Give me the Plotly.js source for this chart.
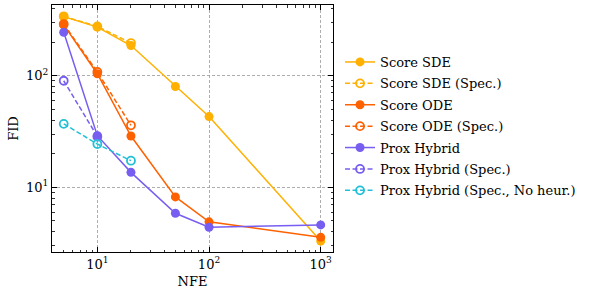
<!DOCTYPE html>
<html>
<head>
<meta charset="utf-8">
<script src="https://cdn.plot.ly/plotly-3.0.1.min.js"></script>
<style>html,body{margin:0;padding:0;background:#fff;}#chart{width:595px;height:297px;}</style>
</head>
<body>
<div id="chart"></div>
<script>
const nfeFull = [5, 10, 20, 50, 100, 1000];
const nfeSpec = [5, 10, 20];
const nfeSpecProx = [5, 10];

const scoreSDE = [338, 272, 186, 80, 43, 3.3];
const scoreSDESpec = [340, 276, 196];
const scoreODE = [285, 104, 28.8, 8.2, 4.9, 3.56];
const scoreODESpec = [290, 108, 35.9];
const proxHybrid = [245, 29, 13.6, 5.85, 4.38, 4.6];
const proxHybridSpec = [90, 28.5];
const proxHybridNoHeur = [37, 24.4, 17.3];

const seriesNames = ["Score SDE", "Score SDE (Spec.)", "Score ODE", "Score ODE (Spec.)", "Prox Hybrid", "Prox Hybrid (Spec.)", "Prox Hybrid (Spec., No heur.)"];
const colors = ["#FFB000", "#FFB000", "#FE6100", "#FE6100", "#785EF0", "#785EF0", "#22C0D6"];

const xMajorVals = [10, 100, 1000];
const xMajorText = ["10<sup>1</sup>", "10<sup>2</sup>", "10<sup>3</sup>"];
const yMajorVals = [10, 100];
const yMajorText = ["10<sup>1</sup>", "10<sup>2</sup>"];
const minorDigits = [2, 3, 4, 5, 6, 7, 8, 9];
const xMinorVals = [1, 10, 100, 1000].flatMap(p => minorDigits.map(d => d * p));
const yMinorVals = [1, 10, 100].flatMap(p => minorDigits.map(d => d * p));

function solid(x, y, i) {
  return {x: x, y: y, name: seriesNames[i], type: "scatter", mode: "lines+markers",
    legendgroup: "g" + i, legendrank: i + 1,
    line: {color: colors[i], width: 1.5},
    marker: {color: colors[i], size: 9, symbol: "circle"}};
}
function dashed(x, y, i) {
  return {x: x, y: y, name: seriesNames[i], type: "scatter", mode: "lines+markers",
    legendgroup: "g" + i, legendrank: i + 1,
    line: {color: colors[i], width: 1.5, dash: "5px,2.5px"},
    marker: {color: colors[i], size: 8, symbol: "circle-open", line: {width: 1.8, color: colors[i]}}};
}

const traces = [
  solid(nfeFull, scoreSDE, 0),
  dashed(nfeSpec, scoreSDESpec, 1),
  solid(nfeFull, scoreODE, 2),
  dashed(nfeSpec, scoreODESpec, 3),
  solid(nfeFull, proxHybrid, 4),
  dashed(nfeSpecProx, proxHybridSpec, 5),
  dashed(nfeSpec, proxHybridNoHeur, 6)
];
const order = [1, 0, 3, 2, 5, 4, 6];
const data = order.map(i => traces[i]);
data.push({x: [10], y: [10], xaxis: "x2", yaxis: "y2", type: "scatter", mode: "markers",
  marker: {opacity: 0}, showlegend: false, hoverinfo: "skip"});

const fontFam = "DejaVu Serif";
const xRange = [0.594, 3.11];
const yRange = [0.42, 2.633];
const axisCommon = {
  type: "log",
  showline: true, linecolor: "#000", linewidth: 1, mirror: "allticks",
  ticks: "inside", ticklen: 5, tickwidth: 1, tickcolor: "#000",
  showgrid: true, gridcolor: "#999", griddash: "3px,2px", gridwidth: 0.8,
  zeroline: false, tickmode: "array",
  tickfont: {family: fontFam, size: 13, color: "#000"}
};
const minorCommon = {
  type: "log", showline: false, showgrid: false, zeroline: false,
  ticks: "inside", ticklen: 2.5, tickwidth: 0.8, tickcolor: "#000", mirror: "allticks",
  showticklabels: false, tickmode: "array"
};

const layout = {
  width: 595, height: 297,
  margin: {l: 52, r: 262, t: 5, b: 45},
  paper_bgcolor: "#fff", plot_bgcolor: "#fff",
  font: {family: fontFam, color: "#000"},
  xaxis: Object.assign({}, axisCommon, {range: xRange, tickvals: xMajorVals, ticktext: xMajorText,
    title: {text: "NFE", font: {family: fontFam, size: 13}, standoff: 6}}),
  yaxis: Object.assign({}, axisCommon, {range: yRange, tickvals: yMajorVals, ticktext: yMajorText,
    title: {text: "FID", font: {family: fontFam, size: 13}, standoff: 4}}),
  xaxis2: Object.assign({}, minorCommon, {overlaying: "x", anchor: "y2", side: "bottom", range: xRange, tickvals: xMinorVals}),
  yaxis2: Object.assign({}, minorCommon, {overlaying: "y", anchor: "x2", side: "left", range: yRange, tickvals: yMinorVals}),
  showlegend: true,
  legend: {x: 1.025, y: 0.83, xanchor: "left", yanchor: "top",
    font: {family: fontFam, size: 13, color: "#000"},
    tracegroupgap: 1.5, bgcolor: "rgba(0,0,0,0)", traceorder: "grouped"}
};

Plotly.newPlot("chart", data, layout, {displayModeBar: false, staticPlot: true});
</script>
</body>
</html>
